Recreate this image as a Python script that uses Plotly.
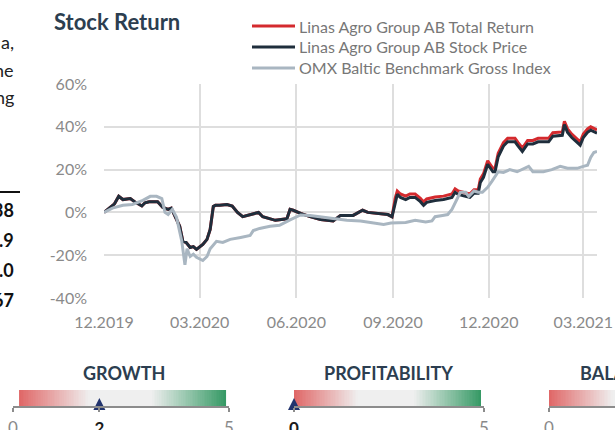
import plotly.graph_objects as go
import numpy as np

W, H = 615, 430


def px(x):
    return x / W


def py(y):
    return (H - y) / H


# ---------------- data ----------------
series_names = [
    "Linas Agro Group AB Total Return",
    "Linas Agro Group AB Stock Price",
    "OMX Baltic Benchmark Gross Index",
]
series_colors = ["#d42a2e", "#1f2e3c", "#a9b6c1"]

stock_dates = [
    "2019-12-01", "2019-12-07", "2019-12-11", "2019-12-15", "2019-12-19", "2019-12-26",
    "2019-12-31", "2020-01-06", "2020-01-09", "2020-01-13", "2020-01-21", "2020-01-26",
    "2020-01-31", "2020-02-03", "2020-02-06", "2020-02-11", "2020-02-14", "2020-02-17",
    "2020-02-21", "2020-02-24", "2020-02-27", "2020-03-01", "2020-03-04", "2020-03-08",
    "2020-03-11", "2020-03-14", "2020-03-16", "2020-03-20", "2020-03-27", "2020-04-01",
    "2020-04-06", "2020-04-11", "2020-04-18", "2020-04-26", "2020-04-30", "2020-05-07",
    "2020-05-12", "2020-05-23", "2020-05-26", "2020-05-29", "2020-06-05", "2020-06-14",
    "2020-06-24", "2020-07-06", "2020-07-13", "2020-07-25", "2020-08-03", "2020-08-08",
    "2020-08-20", "2020-08-27", "2020-08-31", "2020-09-03", "2020-09-05", "2020-09-08",
    "2020-09-13", "2020-09-17", "2020-09-22", "2020-09-27", "2020-09-30", "2020-10-03",
    "2020-10-11", "2020-10-19", "2020-10-27", "2020-10-30", "2020-11-02", "2020-11-09",
    "2020-11-13", "2020-11-17", "2020-11-21", "2020-11-23", "2020-11-26", "2020-11-30",
    "2020-12-02", "2020-12-05", "2020-12-07", "2020-12-10", "2020-12-15", "2020-12-19",
    "2020-12-23", "2020-12-26", "2020-12-29", "2021-01-02", "2021-01-07", "2021-01-12",
    "2021-01-17", "2021-01-22", "2021-01-27", "2021-01-31", "2021-02-05", "2021-02-09",
    "2021-02-11", "2021-02-14", "2021-02-18", "2021-02-23", "2021-02-26", "2021-03-01",
    "2021-03-05", "2021-03-08", "2021-03-12", "2021-03-14",
]

stock_price = [
    0, 2.5, 4, 7.5, 6, 6.5,
    4.7, 3, 4.5, 5, 5, 2.3,
    1.4, 2, -1, -6.5, -13.5, -14,
    -16.4, -16, -17.3, -16, -15, -12.6,
    -8, 2.8, 3.3, 3.3, 3.7, 3,
    0, -2, -1, 0, -2, -3,
    -3.7, -3, 1.4, 1.0, -0.5, -2,
    -3.3, -4, -1.4, -1.4, 1, 0,
    -0.5, -1, -2, 5, 8.4, 7,
    6, 7, 7, 5, 3.3, 4.7,
    5.6, 6, 7, 9.4, 8.4, 7.5,
    7, 9, 9, 14, 16.4, 22.5,
    21, 19, 19, 26, 31, 33,
    33, 33, 31, 28.5, 32, 32,
    33, 33, 33, 35.6, 36, 36,
    41, 37.4, 35, 33, 31.4, 35,
    37.4, 38.4, 37.4, 37,
]

total_return = [
    0, 2.5, 4, 7.5, 6, 6.5,
    4.7, 3, 4.5, 5, 5, 2.3,
    1.4, 2, -1, -6.5, -13.5, -14,
    -16.4, -16, -17.3, -16, -15, -12.6,
    -8, 2.8, 3.3, 3.3, 3.7, 3,
    0, -2, -1, 0, -2, -3,
    -3.7, -3, 1.4, 1.0, -0.5, -2,
    -3.3, -4, -1.4, -1.4, 1, 0,
    -0.5, -1, -2, 6.6, 10.0, 8.6,
    7.6, 8.6, 8.6, 6.6, 4.9, 6.3,
    7.2, 7.6, 8.6, 11.0, 10.0, 9.1,
    8.6, 10.6, 10.6, 15.6, 18.0, 24.1,
    22.6, 20.6, 20.6, 27.6, 32.6, 34.6,
    34.6, 34.6, 32.6, 30.1, 33.6, 33.6,
    34.6, 34.6, 34.6, 37.2, 37.6, 37.6,
    42.6, 39.0, 36.6, 34.6, 33.0, 36.6,
    39.0, 40.0, 39.0, 38.6,
]

omx_dates = [
    "2019-12-01", "2019-12-09", "2019-12-19", "2019-12-28", "2020-01-07", "2020-01-14",
    "2020-01-20", "2020-01-25", "2020-01-28", "2020-01-31", "2020-02-04", "2020-02-08",
    "2020-02-13", "2020-02-16", "2020-02-18", "2020-02-21", "2020-02-24", "2020-02-27",
    "2020-03-04", "2020-03-08", "2020-03-11", "2020-03-17", "2020-03-23", "2020-03-30",
    "2020-04-09", "2020-04-18", "2020-04-21", "2020-04-27", "2020-05-07", "2020-05-16",
    "2020-05-26", "2020-06-05", "2020-06-14", "2020-06-24", "2020-07-06", "2020-07-19",
    "2020-08-01", "2020-08-13", "2020-08-23", "2020-08-30", "2020-09-08", "2020-09-13",
    "2020-09-22", "2020-10-02", "2020-10-08", "2020-10-11", "2020-10-18", "2020-10-23",
    "2020-10-27", "2020-11-01", "2020-11-04", "2020-11-09", "2020-11-12", "2020-11-17",
    "2020-11-21", "2020-11-25", "2020-11-30", "2020-12-04", "2020-12-07", "2020-12-10",
    "2020-12-15", "2020-12-21", "2020-12-28", "2021-01-02", "2021-01-08", "2021-01-12",
    "2021-01-22", "2021-01-30", "2021-02-07", "2021-02-14", "2021-02-23", "2021-03-01",
    "2021-03-05", "2021-03-08", "2021-03-11", "2021-03-14",
]

omx_index = [
    0, 2, 3.3, 3.7, 5.6, 7.5,
    7.5, 6.5, 0, -1, 1.4, -2.3,
    -13.5, -24.5, -17, -20.6, -19.5, -21,
    -22.5, -20.6, -17, -13.5, -14, -12.6,
    -11.7, -10.8, -8.5, -7.5, -6.5, -6,
    -3.5, -1.2, -1.4, -2, -3, -3.7,
    -4, -4.7, -5.6, -5, -5, -4.7,
    -3.7, -4.5, -4, -2, -1.4, -1,
    1.4, 6, 9.4, 9.4, 7.5, 10,
    9.4, 9.4, 11.7, 14.5, 17, 19,
    18.7, 20, 19, 20, 21.5, 19,
    19, 20, 21.5, 20.6, 20.6, 21.5,
    22, 25.7, 28, 28.5,
]

y_tick_values = [-40, -20, 0, 20, 40, 60]
y_tick_text = ["-40%", "-20%", "0%", "20%", "40%", "60%"]

# gauges
gauge_titles = ["GROWTH", "PROFITABILITY", "BALANCE SHEET"]
gauge_scores = [2, 0, None]
gauge_max = 5

# fragments of the surrounding page (cut off at left)
left_text = ["a,", "he", "ng"]
left_numbers = ["38", ".9", ".0", "67"]

FONT = "Lato"
GRID = "#dedede"
TICK = "#8a8a8a"
DARK = "#2c3e50"

fig = go.Figure()

series_x = [stock_dates, stock_dates, omx_dates]
series_y = [total_return, stock_price, omx_index]
for name, color, xs, ys in zip(series_names, series_colors, series_x, series_y):
    fig.add_trace(go.Scatter(
        x=xs, y=ys, mode="lines", name=name,
        line=dict(color=color, width=3),
        showlegend=False, xaxis="x", yaxis="y",
    ))

# ---------------- gauges ----------------
gauge_px = [(13, 229), (294, 484), (549, 549 + (484 - 294))]
bar_from = [0.14, 0.0, 0.0]
bar_to = [4.93, 4.92, 4.92]
gauge_title_x = [124, 388, 578]
colorscale = [[0, "#e06868"], [0.34, "#efefef"], [0.64, "#efefef"], [1, "#379a66"]]

gy0, gy1 = 406, 390  # bar bottom / top in px
layout_axes = {}
for i, (title, score) in enumerate(zip(gauge_titles, gauge_scores)):
    k = i + 2
    xa, ya = f"x{k}", f"y{k}"
    left, right = gauge_px[i]
    d1 = min(right, W)
    rng_hi = gauge_max * (d1 - left) / (right - left)
    n = 120
    edges = np.linspace(bar_from[i], bar_to[i], n + 1)
    fig.add_trace(go.Heatmap(
        x=edges, y=[0, 1], z=[np.linspace(0, 1, n).tolist()],
        colorscale=colorscale, zmin=0, zmax=1, showscale=False,
        hoverinfo="skip", xaxis=xa, yaxis=ya,
    ))
    tv = [0, gauge_max]
    tt = ["0", str(gauge_max)]
    if score is not None:
        if score in tv:
            tt[tv.index(score)] = f"<b><span style='color:#1b1b1b'>{score}</span></b>"
        else:
            tv.insert(1, score)
            tt.insert(1, f"<b><span style='color:#1b1b1b'>{score}</span></b>")
        fig.add_trace(go.Scatter(
            x=[score], y=[0.5], mode="markers",
            marker=dict(symbol="arrow-up", size=12, color="#22346e"),
            cliponaxis=False, showlegend=False, hoverinfo="skip",
            xaxis=xa, yaxis=ya,
        ))
    layout_axes[f"xaxis{k}"] = dict(
        domain=[px(left), px(d1)], range=[0, rng_hi], anchor=ya, automargin=False,
        showgrid=False, zeroline=False, showline=True, linecolor="#8c8c8c",
        linewidth=1.5, ticks="outside", ticklen=4, tickcolor="#8c8c8c",
        tickwidth=1.5, tickvals=tv, ticktext=tt, ticklabelstandoff=2,
        tickfont=dict(family=FONT, size=17, color="#8a8a8a"), fixedrange=True,
    )
    layout_axes[f"yaxis{k}"] = dict(
        domain=[py(gy0), py(gy1)], range=[0, 1], anchor=xa, visible=False,
        automargin=False, fixedrange=True,
    )

annotations = []
for i, title in enumerate(gauge_titles):
    annotations.append(dict(
        text=f"<b>{title}</b>", x=px(gauge_title_x[i]), y=py(373), xref="paper",
        yref="paper", xanchor="center" if i < 2 else "left", yanchor="middle",
        showarrow=False, font=dict(family=FONT, size=18, color=DARK),
    ))

# title
annotations.append(dict(
    text="<b>Stock Return</b>", x=px(52), y=py(21), xref="paper", yref="paper",
    xanchor="left", yanchor="middle", showarrow=False,
    font=dict(family=FONT, size=22, color=DARK),
))

# manual legend
shapes = []
for i, (name, color) in enumerate(zip(series_names, series_colors)):
    yy = py(26 + 21 * i)
    shapes.append(dict(type="line", xref="paper", yref="paper", x0=px(252), x1=px(295),
                       y0=yy, y1=yy, line=dict(color=color, width=3)))
    annotations.append(dict(
        text=name, x=px(297), y=yy, xref="paper", yref="paper", xanchor="left",
        yanchor="middle", showarrow=False, font=dict(family=FONT, size=16, color="#777777"),
    ))

# page fragments on the left
for i, t in enumerate(left_text):
    annotations.append(dict(
        text=t, x=px(16), y=py(42 + 27.5 * i), xref="paper", yref="paper",
        xanchor="right", yanchor="middle", showarrow=False,
        font=dict(family=FONT, size=18, color="#222222"),
    ))
for i, t in enumerate(left_numbers):
    annotations.append(dict(
        text=f"<b>{t}</b>", x=px(16), y=py(210 + 30 * i), xref="paper", yref="paper",
        xanchor="right", yanchor="middle", showarrow=False,
        font=dict(family=FONT, size=18, color="#111111"),
    ))
shapes.append(dict(type="line", xref="paper", yref="paper", x0=0, x1=px(20),
                   y0=py(192), y1=py(192), line=dict(color="#111111", width=2)))

fig.update_layout(
    width=W, height=H,
    margin=dict(l=0, r=0, t=0, b=0, pad=0),
    paper_bgcolor="white", plot_bgcolor="white",
    showlegend=False,
    font=dict(family=FONT),
    xaxis=dict(
        domain=[px(104), px(597)], anchor="y", automargin=False,
        range=["2019-12-01", "2021-03-14"],
        tick0="2019-12-01", dtick="M3", tickformat="%m.%Y",
        showgrid=True, gridcolor=GRID, gridwidth=1.5, zeroline=False, showline=False,
        ticks="", ticklabelstandoff=13,
        tickfont=dict(family=FONT, size=16, color=TICK), fixedrange=True,
    ),
    yaxis=dict(
        domain=[py(298), py(84)], anchor="x", automargin=False,
        range=[-40, 60], tickvals=y_tick_values, ticktext=y_tick_text,
        showgrid=True, gridcolor=GRID, gridwidth=1.5, zeroline=False, showline=False,
        ticks="", ticklabelstandoff=16,
        tickfont=dict(family=FONT, size=16, color=TICK), fixedrange=True,
    ),
    annotations=annotations,
    shapes=shapes,
    **layout_axes,
)

fig.write_html(
    "out.html",
    config={"displayModeBar": False},
    post_script="document.body.style.margin='0';document.body.style.overflow='hidden';",
)
